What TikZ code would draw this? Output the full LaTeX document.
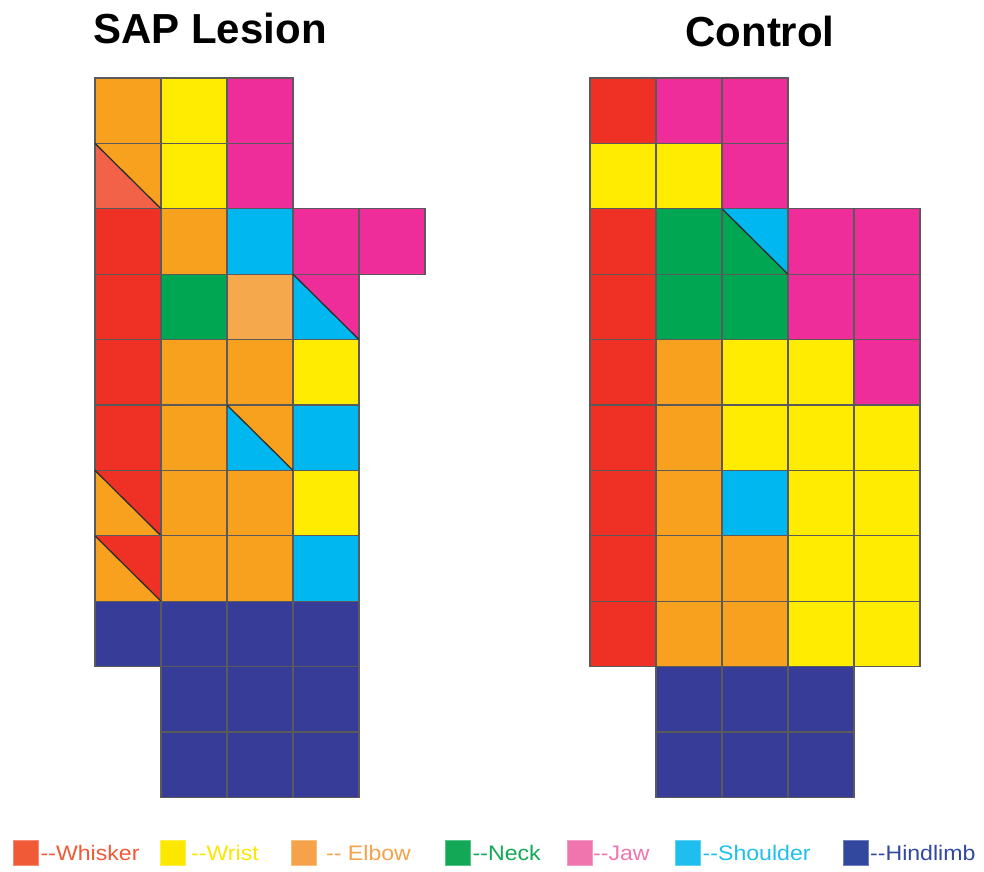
\documentclass[tikz,border=0pt]{standalone}
\usepackage{fontspec}
\setmainfont{Liberation Sans}
\newfontfamily\legendfont[FakeStretch=1.1]{Liberation Sans}
\usetikzlibrary{positioning}
\definecolor{cwhisker}{HTML}{EE3124}
\definecolor{cwhiskerlt}{HTML}{F26249}
\definecolor{cwrist}{HTML}{FFEC00}
\definecolor{celbow}{HTML}{F7A11E}
\definecolor{celbowlt}{HTML}{F5A94C}
\definecolor{cneck}{HTML}{00A651}
\definecolor{cjaw}{HTML}{EE2D9B}
\definecolor{cshoulder}{HTML}{00B7EF}
\definecolor{chind}{HTML}{373C98}
\definecolor{cellgray}{HTML}{5A5A5A}
\definecolor{diaggray}{HTML}{2E2E2E}
\definecolor{lgwhisker}{HTML}{F05A36}
\definecolor{lgwrist}{HTML}{FBE700}
\definecolor{lgelbow}{HTML}{F5A24A}
\definecolor{lgneck}{HTML}{12A856}
\definecolor{lgjaw}{HTML}{F075AE}
\definecolor{lgshoulder}{HTML}{1EBFEE}
\definecolor{lghind}{HTML}{32489E}
\tikzset{
    cellbox/.style={draw=cellgray, line width=1.3pt},
    diagline/.style={draw=diaggray, line width=1.3pt},
    legsq/.style={minimum size=25pt, inner sep=0pt, draw=#1!70, fill=#1, line width=0.5pt},
    legtext/.style={font=\legendfont\fontsize{21}{24}\selectfont, inner sep=0pt, anchor=base west},
    titletext/.style={font=\bfseries\fontsize{42}{48}\selectfont, inner sep=0pt, anchor=base},
  }
\begin{document}
\begin{tikzpicture}[x=1pt,y=-1pt]
  \useasboundingbox (0,0) rectangle (984,871);
  % titles
  \node[titletext] (lesion) at (210,43) {SAP Lesion};
  \node[titletext] (control) at (760,46.5) {Control};
  % SAP lesion map
  \begin{scope}[xshift=95pt,yshift=-78pt,x=66pt,y=-65.4pt]
    \foreach \i/\j/\col in {0/0/celbow,1/0/cwrist,2/0/cjaw,1/1/cwrist,2/1/cjaw,
        0/2/cwhisker,1/2/celbow,2/2/cshoulder,3/2/cjaw,4/2/cjaw,
        0/3/cwhisker,1/3/cneck,2/3/celbowlt,
        0/4/cwhisker,1/4/celbow,2/4/celbow,3/4/cwrist,
        0/5/cwhisker,1/5/celbow,3/5/cshoulder,
        1/6/celbow,2/6/celbow,3/6/cwrist,
        1/7/celbow,2/7/celbow,3/7/cshoulder,
        0/8/chind,1/8/chind,2/8/chind,3/8/chind}
      \filldraw[cellbox,fill=\col] (\i,\j) rectangle ++(1,1);
    \foreach \j in {9,10}
      \foreach \i in {1,2,3}
        \filldraw[cellbox,fill=chind] (\i,\j) rectangle ++(1,1);
    % split cells: upper right / lower left
    \foreach \i/\j/\up/\lo in {0/1/celbow/cwhiskerlt,3/3/cjaw/cshoulder,2/5/celbow/cshoulder,
        0/6/cwhisker/celbow,0/7/cwhisker/celbow}{
      \fill[\up] (\i,\j) -- ++(1,0) -- ++(0,1) -- cycle;
      \fill[\lo] (\i,\j) -- ++(0,1) -- ++(1,0) -- cycle;
      \draw[cellbox] (\i,\j) rectangle ++(1,1);
      \draw[diagline] (\i,\j) -- ++(1,1);
    }
  \end{scope}
  % control map
  \begin{scope}[xshift=590pt,yshift=-78pt,x=66pt,y=-65.4pt]
    \foreach \i/\j/\col in {0/0/cwhisker,1/0/cjaw,2/0/cjaw,0/1/cwrist,1/1/cwrist,2/1/cjaw,
        0/2/cwhisker,1/2/cneck,3/2/cjaw,4/2/cjaw,
        0/3/cwhisker,1/3/cneck,2/3/cneck,3/3/cjaw,4/3/cjaw,
        0/4/cwhisker,1/4/celbow,2/4/cwrist,3/4/cwrist,4/4/cjaw,
        0/5/cwhisker,1/5/celbow,2/5/cwrist,3/5/cwrist,4/5/cwrist,
        0/6/cwhisker,1/6/celbow,2/6/cshoulder,3/6/cwrist,4/6/cwrist,
        0/7/cwhisker,1/7/celbow,2/7/celbow,3/7/cwrist,4/7/cwrist,
        0/8/cwhisker,1/8/celbow,2/8/celbow,3/8/cwrist,4/8/cwrist}
      \filldraw[cellbox,fill=\col] (\i,\j) rectangle ++(1,1);
    \foreach \j in {9,10}
      \foreach \i in {1,2,3}
        \filldraw[cellbox,fill=chind] (\i,\j) rectangle ++(1,1);
    \foreach \i/\j/\up/\lo in {2/2/cshoulder/cneck}{
      \fill[\up] (\i,\j) -- ++(1,0) -- ++(0,1) -- cycle;
      \fill[\lo] (\i,\j) -- ++(0,1) -- ++(1,0) -- cycle;
      \draw[cellbox] (\i,\j) rectangle ++(1,1);
      \draw[diagline] (\i,\j) -- ++(1,1);
    }
  \end{scope}
  % legend
  \foreach \n/\xs/\xt/\col/\txt in {whisker/13/40.5/lgwhisker/{-{}-Whisker},
      wrist/160/191/lgwrist/{-{}-Wrist},elbow/291/326/lgelbow/{-{}- Elbow},
      neck/445/472.5/lgneck/{-{}-Neck},jaw/567/593/lgjaw/{-{}-Jaw},
      shoulder/675/702.5/lgshoulder/{-{}-Shoulder},hind/843/870/lghind/{-{}-Hindlimb}}{
    \node[legsq=\col, anchor=west] (sq\n) at (\xs,853) {};
    \node[legtext, text=\col] (lab\n) at (\xt,860) {\txt};
  }
\end{tikzpicture}
\end{document}
